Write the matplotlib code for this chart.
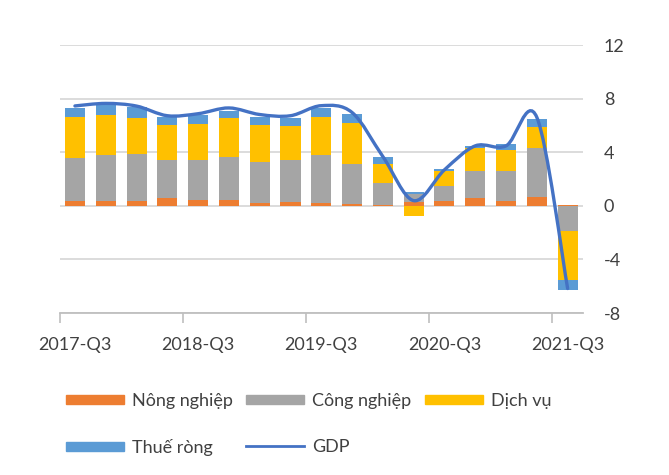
import numpy as np
import matplotlib.pyplot as plt
from matplotlib.path import Path
from matplotlib.patches import PathPatch, Patch
from matplotlib.lines import Line2D

plt.rcParams['font.family'] = ['Lato', 'DejaVu Sans']
plt.rcParams['axes.unicode_minus'] = False

quarters = ['2017-Q3', '2017-Q4', '2018-Q1', '2018-Q2', '2018-Q3', '2018-Q4',
            '2019-Q1', '2019-Q2', '2019-Q3', '2019-Q4', '2020-Q1', '2020-Q2',
            '2020-Q3', '2020-Q4', '2021-Q1', '2021-Q2', '2021-Q3']
nong_nghiep = [0.40, 0.40, 0.40, 0.62, 0.47, 0.47, 0.22, 0.30, 0.22, 0.15,
               0.05, 0.30, 0.37, 0.57, 0.37, 0.69, 0.08]
cong_nghiep = [3.16, 3.41, 3.48, 2.84, 2.99, 3.16, 3.09, 3.16, 3.59, 2.94,
               1.68, 0.57, 1.11, 2.04, 2.24, 3.66, -1.90]
dich_vu = [3.11, 3.00, 2.69, 2.57, 2.64, 2.96, 2.72, 2.47, 2.86, 3.13,
           1.36, -0.76, 1.11, 1.71, 1.54, 1.52, -3.66]
thue_rong = [0.62, 0.72, 0.82, 0.64, 0.67, 0.50, 0.64, 0.66, 0.62, 0.67,
             0.54, 0.17, 0.15, 0.15, 0.44, 0.63, -0.71]
gdp = [7.46, 7.65, 7.45, 6.73, 6.88, 7.31, 6.82, 6.73, 7.48, 6.97,
       3.68, 0.39, 2.69, 4.48, 4.48, 6.61, -6.17]

series = [('Nông nghiệp', nong_nghiep, '#ED7D31'),
          ('Công nghiệp', cong_nghiep, '#A5A5A5'),
          ('Dịch vụ', dich_vu, '#FFC000'),
          ('Thuế ròng', thue_rong, '#5B9BD5')]
gdp_color = '#4472C4'
text_color = '#404040'

fig = plt.figure(figsize=(6.69, 4.75), dpi=100)
ax = fig.add_axes([0.089, 0.341, 0.7825, 0.564])

x = np.arange(len(quarters))
pos_base = np.zeros(len(x))
neg_base = np.zeros(len(x))
for name, vals, col in series:
    v = np.array(vals)
    bottom = np.where(v >= 0, pos_base, neg_base)
    ax.bar(x, v, bottom=bottom, width=0.65, color=col, zorder=2)
    pos_base += np.where(v >= 0, v, 0)
    neg_base += np.where(v < 0, v, 0)


def smooth_path(xs, ys):
    # bezier like excel's smoothed line
    n = len(xs)
    verts = [(xs[0], ys[0])]
    codes = [Path.MOVETO]
    for i in range(n - 1):
        a = max(i - 1, 0)
        b = min(i + 2, n - 1)
        c1 = (xs[i] + (xs[i + 1] - xs[a]) / 6, ys[i] + (ys[i + 1] - ys[a]) / 6)
        c2 = (xs[i + 1] - (xs[b] - xs[i]) / 6, ys[i + 1] - (ys[b] - ys[i]) / 6)
        verts += [c1, c2, (xs[i + 1], ys[i + 1])]
        codes += [Path.CURVE4] * 3
    return Path(verts, codes)


ax.add_patch(PathPatch(smooth_path(x, gdp), facecolor='none', edgecolor=gdp_color,
                       lw=2.4, zorder=3, capstyle='round'))

ax.set_xlim(-0.5, len(x) - 0.5)
ax.set_ylim(-8, 12)
ax.set_yticks([12, 8, 4, 0, -4, -8])
ax.yaxis.tick_right()
ax.grid(axis='y', color='#D9D9D9', lw=1.3, zorder=0)
ax.tick_params(axis='y', length=0, pad=15, labelsize=13, labelcolor=text_color)
for lab in ax.get_yticklabels():
    lab.set_horizontalalignment('left')

ax.set_xticks(x[::4], [quarters[i] for i in x[::4]])
ax.set_xticks(x[::4] - 0.5, minor=True)
ax.tick_params(axis='x', which='major', length=0, pad=17, labelsize=13, labelcolor=text_color)
ax.tick_params(axis='x', which='minor', length=7, width=1.2, color='#BFBFBF')

for s in ['top', 'left', 'right']:
    ax.spines[s].set_visible(False)
ax.spines['bottom'].set_color('#BFBFBF')
ax.spines['bottom'].set_linewidth(1.3)

handles = [Patch(color='#ED7D31', label='Nông nghiệp'),
           Patch(color='#5B9BD5', label='Thuế ròng'),
           Patch(color='#A5A5A5', label='Công nghiệp'),
           Line2D([], [], color=gdp_color, lw=2, label='GDP'),
           Patch(color='#FFC000', label='Dịch vụ')]
fig.legend(handles=handles, ncol=3, loc='upper left', bbox_to_anchor=(66 / 669, 1 - 393 / 475),
           frameon=False, fontsize=13, handlelength=3.2, handleheight=0.45,
           handletextpad=0.45, columnspacing=0.75, labelspacing=1.65, borderpad=0,
           borderaxespad=0, labelcolor=text_color)

fig.savefig('out.png', dpi=100)
